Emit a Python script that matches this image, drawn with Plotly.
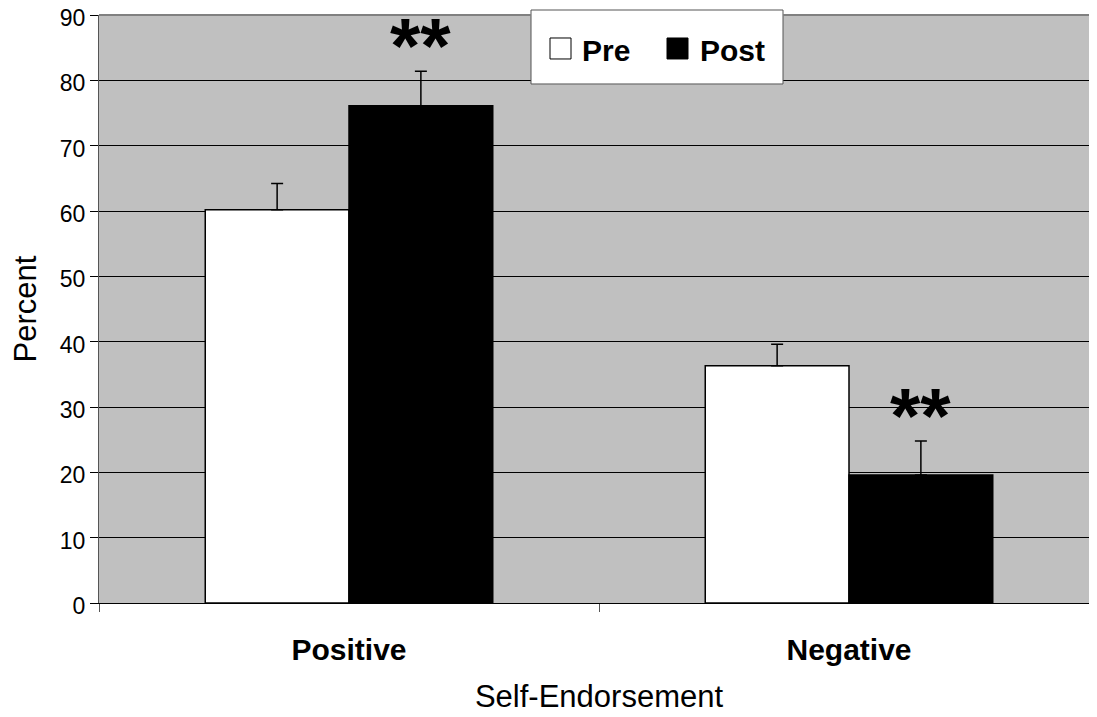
import plotly.graph_objects as go

categories = ["Positive", "Negative"]
pre_values = [60.2, 36.3]
post_values = [76.1, 19.6]
pre_errors = [4.0, 3.3]
post_errors = [5.3, 5.2]
series_names = ["Pre", "Post"]
series_colors = ["white", "black"]
y_ticks = [0, 10, 20, 30, 40, 50, 60, 70, 80, 90]
significance = ["**", "**"]

FONT = "Liberation Sans, Arial, sans-serif"

fig = go.Figure()
for name, vals, errs, col in zip(series_names, [pre_values, post_values],
                                 [pre_errors, post_errors], series_colors):
    fig.add_trace(go.Bar(
        x=categories, y=vals, name=name,
        marker=dict(color=col, line=dict(color="black", width=1.5)),
        error_y=dict(type="data", array=errs, arrayminus=[0] * len(errs), symmetric=False,
                     color="black", thickness=1.5, width=6),
        showlegend=False,
    ))

# significance stars above Post bars
bargap = 0.425
bar_w = (1 - bargap) / 2
for i, (v, e, s) in enumerate(zip(post_values, post_errors, significance)):
    fig.add_annotation(
        x=i + bar_w / 2, y=v + e, xref="x", yref="y", text=f"<b>{s}</b>",
        showarrow=False, yanchor="bottom", yshift=-7, height=60, valign="middle",
        font=dict(family=FONT, size=78, color="black"),
    )

# legend box drawn in paper coordinates
shapes = [
    dict(type="rect", xref="paper", yref="paper", x0=0.432, x1=0.684, y0=0.8827, y1=1.0085,
         fillcolor="white", line=dict(color="#555", width=1), layer="above"),
    dict(type="line", xref="paper", yref="paper", x0=0, x1=0.432, y0=1, y1=1,
         line=dict(color="#808080", width=2), layer="above"),
    dict(type="line", xref="paper", yref="paper", x0=0.684, x1=1, y0=1, y1=1,
         line=dict(color="#808080", width=2), layer="above"),
]
swatch_x = [0.451, 0.568]
text_x = [0.481, 0.599]
for sx, tx, name, col in zip(swatch_x, text_x, series_names, series_colors):
    shapes.append(dict(type="rect", xref="paper", yref="paper", x0=sx, x1=sx + 0.021,
                       y0=0.9252, y1=0.9609, fillcolor=col,
                       line=dict(color="black", width=1), layer="above"))
    fig.add_annotation(x=tx, y=0.940, xref="paper", yref="paper", text=f"<b>{name}</b>",
                       showarrow=False, xanchor="left", yanchor="middle",
                       font=dict(family=FONT, size=30, color="black"))

fig.update_layout(
    width=1097, height=709,
    margin=dict(l=91, r=6, t=7, b=114),
    paper_bgcolor="white", plot_bgcolor="#C0C0C0",
    barmode="group", bargap=bargap, bargroupgap=0,
    font=dict(family=FONT, color="black"),
    showlegend=False,
    shapes=shapes,
    xaxis=dict(
        showgrid=False, ticks="outside", tickson="boundaries", ticklen=8,
        tickcolor="#555", showline=True, linecolor="black", linewidth=1,
        tickfont=dict(family=FONT, size=30, color="black", weight="bold"),
        ticklabelstandoff=20, automargin=False,
        title=dict(text="Self-Endorsement", font=dict(family=FONT, size=31, color="black"), standoff=20),
    ),
    yaxis=dict(
        range=[0, 90], tickvals=y_ticks, showgrid=True, gridcolor="black", gridwidth=1,
        ticks="outside", ticklen=8, tickcolor="black", showline=True, linecolor="#555",
        linewidth=1, zeroline=False, automargin=False, ticklabeloverflow="allow",
        ticklabelshift=3,
        tickfont=dict(family=FONT, size=23, color="black"),
        title=dict(text="Percent", font=dict(family=FONT, size=31, color="black"), standoff=14),
    ),
)

fig.write_html("out.html")
